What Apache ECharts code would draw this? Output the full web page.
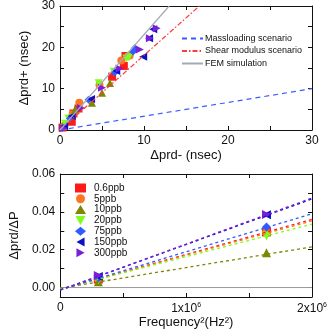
<!DOCTYPE html>
<html>
<head>
<meta charset="utf-8">
<script src="https://cdn.jsdelivr.net/npm/echarts@6/dist/echarts.min.js"></script>
<style>
html, body { margin: 0; padding: 0; background: #fff; }
#chart { width: 333px; height: 332px; }
</style>
</head>
<body>
<div id="chart"></div>
<script>
// concentrations, marker shapes and colours
const concNames = ['0.6ppb', '5ppb', '10ppb', '20ppb', '75ppb', '150ppb', '300ppb']
const concColors = ['#ff1a1a', '#ff7420', '#7d8700', '#7cff1c', '#2f5cff', '#0a10c8', '#7a1fd8']
const concSymbols = [
  'rect', 'circle', 'triangle',
  'path://M0,0L10,0L5,9Z',
  'diamond',
  'path://M9,0L9,10L0,5Z',
  'path://M0,0L9,5L0,10Z'
]

// top panel: [delta prd-, delta prd+] in nsec
const prd06 = [[0.3, 0.6], [1.4, 2.0], [1.6, 4.0], [2.2, 5.2], [6.2, 12.9], [7.6, 15.5], [7.8, 17.9]]
const prd5 = [[0.5, 1.0], [1.5, 3.8], [2.3, 6.6], [4.7, 10.9], [7.3, 16.8], [8.3, 18.0]]
const prd10 = [[0.4, 1.2], [1.8, 5.0], [3.8, 6.6], [5.0, 9.0], [5.95, 11.4]]
const prd20 = [[0.6, 1.5], [1.0, 2.8], [4.6, 11.3], [6.4, 14.1], [7.9, 17.3], [8.2, 17.6]]
const prd75 = [[0.3, 0.5], [1.2, 2.8], [3.4, 7.3], [6.5, 13.9], [8.7, 19.0], [8.9, 19.8]]
const prd150 = [[0.5, 0.9], [1.4, 3.4], [3.7, 7.5], [6.7, 14.3], [9.9, 17.7], [10.6, 22.2], [11.1, 24.4]]
const prd300 = [[0.4, 0.4], [2.5, 5.3], [5.0, 10.2], [7.1, 14.9], [9.5, 19.5], [10.7, 22.2], [11.5, 24.6]]
const prdPoints = [prd06, prd5, prd10, prd20, prd75, prd150, prd300]

// model lines of the top panel
const massLine = [[0, 0], [30, 10]]
const shearLine = [[0, 0], [16.6, 30]]
const femLine = [[0, 0], [13.0, 30]]

// bottom panel: frequency^2 and delta prd / delta P
const freqSq = [0.3025e6, 1.6384e6]
const ratio06 = [0.0045, 0.0294]
const ratio5 = [0.0046, 0.0290]
const ratio10 = [0.0031, 0.0184]
const ratio20 = [0.0041, 0.0273]
const ratio75 = [0.0050, 0.0320]
const ratio150 = [0.0058, 0.0385]
const ratio300 = [0.0063, 0.0386]
const ratioPoints = [ratio06, ratio5, ratio10, ratio20, ratio75, ratio150, ratio300]

// fitted lines, value at fitX[0] and fitX[1]
const fitX = [0, 2e6]
const fitEnds = [
  [-0.0010, 0.0360], [-0.0010, 0.0352], [-0.0004, 0.0215], [-0.0008, 0.0335],
  [-0.0012, 0.0390], [-0.0013, 0.0468], [-0.0014, 0.0473]
]
const zeroLine = [[0, 0], [2e6, 0]]

// tick labels
const topTicks = [0, 10, 20, 30]
const ratioTicks = [0, 0.01, 0.02, 0.03, 0.04, 0.05, 0.06]
const ratioLabels = [0, 0.02, 0.04, 0.06]

const font = 'Liberation Sans, Arial, sans-serif'
const black = '#111'

function frameAxis (grid, pos, extra) {
  return Object.assign({
    gridIndex: grid,
    type: 'value',
    position: pos,
    axisLine: { show: true, onZero: false, lineStyle: { color: black, width: 1 } },
    axisTick: { show: true, inside: true, length: 4, lineStyle: { color: black } },
    axisLabel: { show: false },
    splitLine: { show: false }
  }, extra)
}

const labelStyle = { color: black, fontSize: 12, fontFamily: font }
const nameStyle = { color: black, fontSize: 13, fontFamily: font }

let series = []

series.push({
  name: 'Massloading scenario', type: 'line', xAxisIndex: 0, yAxisIndex: 0,
  data: massLine, showSymbol: false, symbol: 'none',
  lineStyle: { color: '#3b5bff', width: 1.2, type: [5, 4] }
})
series.push({
  name: 'Shear modulus scenario', type: 'line', xAxisIndex: 0, yAxisIndex: 0,
  data: shearLine, showSymbol: false, symbol: 'none',
  lineStyle: { color: '#ff3a3a', width: 1.2, type: [5, 2, 1.5, 2] }
})
series.push({
  name: 'FEM simulation', type: 'line', xAxisIndex: 0, yAxisIndex: 0,
  data: femLine, showSymbol: false, symbol: 'none',
  lineStyle: { color: '#a3abb3', width: 1.2 }
})

// fit lines and zero line in the bottom panel
series.push({
  name: 'zero', type: 'line', xAxisIndex: 2, yAxisIndex: 2,
  data: zeroLine, showSymbol: false, symbol: 'none',
  lineStyle: { color: '#9a9a9a', width: 1 }
})
for (let i = 0; i < concNames.length; i++) {
  series.push({
    name: concNames[i] + ' fit', type: 'line', xAxisIndex: 2, yAxisIndex: 2,
    data: [[fitX[0], fitEnds[i][0]], [fitX[1], fitEnds[i][1]]],
    showSymbol: false, symbol: 'none',
    lineStyle: { color: concColors[i], width: 1.3, type: [3, 3] }
  })
}

for (let i = 0; i < concNames.length; i++) {
  series.push({
    name: concNames[i], type: 'scatter', xAxisIndex: 0, yAxisIndex: 0,
    data: prdPoints[i], symbol: concSymbols[i], symbolSize: 8,
    itemStyle: { color: concColors[i], opacity: 1 }
  })
  series.push({
    name: concNames[i], type: 'scatter', xAxisIndex: 2, yAxisIndex: 2,
    data: freqSq.map((f, k) => [f, ratioPoints[i][k]]),
    symbol: concSymbols[i], symbolSize: 9,
    itemStyle: { color: concColors[i], opacity: 1 }
  })
}

let chart = echarts.init(document.getElementById('chart'), null, { renderer: 'canvas' })
chart.setOption({
  animation: false,
  backgroundColor: '#fff',
  textStyle: { fontFamily: font },
  grid: [
    { left: 60, top: 6, width: 252, height: 124 },
    { left: 60, top: 174, width: 252, height: 123 }
  ],
  legend: [
    {
      data: ['Massloading scenario', 'Shear modulus scenario', 'FEM simulation'],
      orient: 'vertical', left: 176, top: 29,
      itemWidth: 21, itemHeight: 8, itemGap: 3.5,
      itemStyle: { opacity: 0 },
      textStyle: { color: black, fontSize: 9, fontFamily: font, lineHeight: 8, padding: [0, 0, 0, -3] },
      selectedMode: false
    },
    {
      data: concNames,
      orient: 'vertical', left: 70, top: 178,
      itemWidth: 11, itemHeight: 9, itemGap: 0.8,
      textStyle: { color: black, fontSize: 10, fontFamily: font, lineHeight: 9, padding: [0, 0, 0, 3] },
      selectedMode: false
    }
  ],
  xAxis: [
    frameAxis(0, 'bottom', {
      min: 0, max: 30, interval: 5,
      axisLabel: { show: true, margin: 5, ...labelStyle, formatter: v => topTicks.includes(v) ? String(v) : '' },
      name: 'Δprd- (nsec)', nameLocation: 'middle', nameGap: 19, nameTextStyle: nameStyle
    }),
    frameAxis(0, 'top', { min: 0, max: 30, interval: 5 }),
    frameAxis(1, 'bottom', {
      min: 0, max: 2e6, interval: 5e5,
      axisLabel: {
        show: true, margin: 5, ...labelStyle,
        formatter: v => v === 0 ? '{a|0}' : (v % 1e6 === 0 ? '{a|' + (v / 1e6) + 'x10}{s|6}' : ''),
        rich: {
          a: { color: black, fontSize: 12, fontFamily: font },
          s: { color: black, fontSize: 7, fontFamily: font, padding: [0, 0, 7, 0] }
        }
      },
      name: 'Frequency²(Hz²)', nameLocation: 'middle', nameGap: 12, nameTextStyle: nameStyle
    }),
    frameAxis(1, 'top', { min: 0, max: 2e6, interval: 5e5 })
  ],
  yAxis: [
    frameAxis(0, 'left', {
      min: 0, max: 30, interval: 5,
      axisLabel: { show: true, margin: 5, ...labelStyle, formatter: v => topTicks.includes(v) ? String(v) : '' },
      name: 'Δprd+ (nsec)', nameLocation: 'middle', nameGap: 27, nameRotate: 90, nameTextStyle: nameStyle
    }),
    frameAxis(0, 'right', { min: 0, max: 30, interval: 5 }),
    frameAxis(1, 'left', {
      min: -0.005, max: 0.06,
      axisTick: { show: true, inside: true, length: 4, lineStyle: { color: black }, customValues: ratioTicks },
      axisLabel: { show: true, margin: 5, ...labelStyle, customValues: ratioLabels, formatter: v => v.toFixed(2) },
      name: 'Δprd/ΔP', nameLocation: 'middle', nameGap: 27, nameRotate: 90, nameTextStyle: nameStyle
    }),
    frameAxis(1, 'right', {
      min: -0.005, max: 0.06,
      axisTick: { show: true, inside: true, length: 4, lineStyle: { color: black }, customValues: ratioTicks }
    })
  ],
  series: series
})
</script>
</body>
</html>
